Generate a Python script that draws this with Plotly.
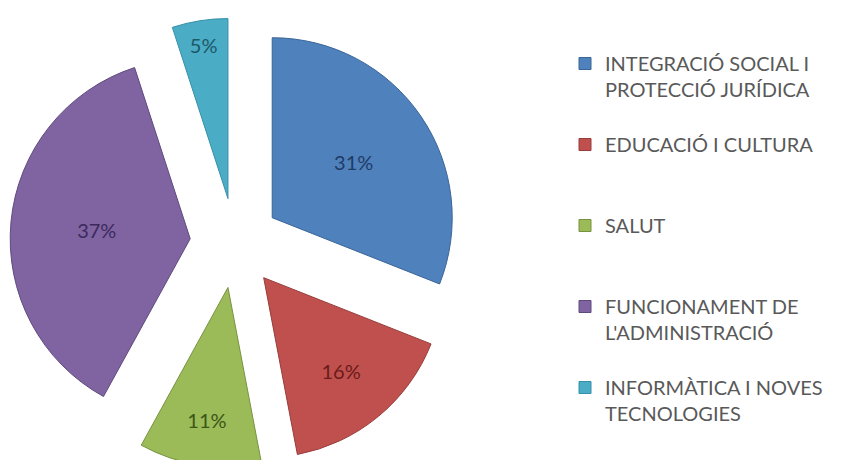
import plotly.graph_objects as go

# categories and shares (%), clockwise from 12 o'clock
labels = ["INTEGRACIÓ SOCIAL I<br>PROTECCIÓ JURÍDICA",
          "EDUCACIÓ I CULTURA",
          "SALUT",
          "FUNCIONAMENT DE<br>L'ADMINISTRACIÓ",
          "INFORMÀTICA I NOVES<br>TECNOLOGIES"]
shares = [31, 16, 11, 37, 5]

colors = ["#4F81BD", "#C0504D", "#9BBB59", "#8064A2", "#4BACC6"]
edge_colors = ["#3A6597", "#973C3A", "#77923F", "#5F4A7D", "#3590A8"]
text_colors = ["#1F3C66", "#6A1C1A", "#3B5617", "#3C2A5C", "#1B5868"]

# pad every legend entry to the same number of lines so the rows spread out
legend_text = []
for lab in labels:
    n = lab.count("<br>") + 1
    legend_text.append(lab + "<br> " * (3 - n))

W, H = 848, 460
ml, mr, mt, mb = 2, 0, 10, 0
pw = W - ml - mr
ph = H - mt - mb
pie_size = 450

fig = go.Figure(go.Pie(
    labels=legend_text,
    values=shares,
    sort=False,
    direction="clockwise",
    rotation=0,
    pull=[0.25] * len(shares),
    marker=dict(colors=colors, line=dict(color=edge_colors, width=1)),
    textinfo="percent",
    textposition="inside",
    insidetextorientation="horizontal",
    textfont=dict(family="Lato", size=20, color=text_colors),
    domain=dict(x=[0, pie_size / pw], y=[0, 1]),
    hoverinfo="skip",
))

fig.update_layout(
    width=W, height=H,
    margin=dict(l=ml, r=mr, t=mt, b=mb),
    paper_bgcolor="white",
    plot_bgcolor="white",
    showlegend=True,
    legend=dict(
        x=(557 - ml) / pw, xanchor="left",
        y=(H - 36 - mb) / ph, yanchor="top",
        valign="top",
        itemwidth=30,
        font=dict(family="Lato", size=20, color="#595959"),
        bgcolor="rgba(0,0,0,0)",
    ),
    uniformtext=dict(minsize=20, mode="show"),
)

fig.write_html("out.html")
